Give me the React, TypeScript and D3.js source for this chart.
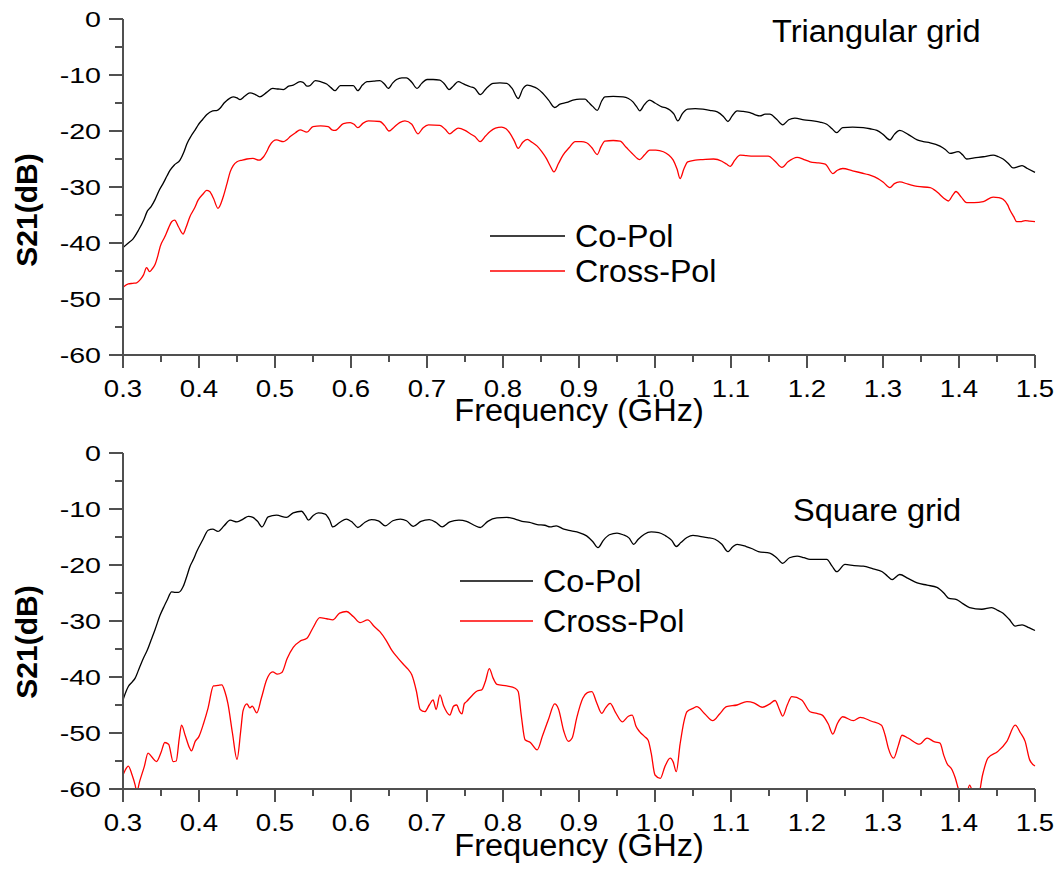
import React from "react";
import * as d3 from "d3";

// ---------- data ----------
const xTicks = [0.3, 0.4, 0.5, 0.6, 0.7, 0.8, 0.9, 1.0, 1.1, 1.2, 1.3, 1.4, 1.5];
const yTicks = [0, -10, -20, -30, -40, -50, -60];
const seriesNames = ["Co-Pol", "Cross-Pol"];
const panelTitles = ["Triangular grid", "Square grid"];

const triCoPol: [number, number][] = [
  [0.300,-40.8],[0.307,-40.0],[0.313,-39.3],[0.320,-37.8],[0.327,-36.0],[0.332,-34.3],[0.337,-33.5],[0.342,-32.3],
  [0.348,-30.5],[0.353,-29.3],[0.358,-28.0],[0.362,-27.0],[0.368,-26.0],[0.375,-25.2],[0.380,-23.8],[0.384,-22.3],
  [0.390,-20.8],[0.395,-19.8],[0.399,-18.9],[0.405,-17.9],[0.410,-17.1],[0.418,-16.4],[0.424,-16.3],[0.428,-15.9],
  [0.433,-15.0],[0.437,-14.5],[0.445,-13.9],[0.450,-14.1],[0.454,-14.4],[0.460,-13.8],[0.467,-13.2],[0.473,-13.4],
  [0.480,-13.9],[0.489,-13.1],[0.497,-12.4],[0.504,-12.5],[0.511,-12.6],[0.518,-12.0],[0.524,-11.8],[0.533,-11.2],
  [0.537,-11.3],[0.542,-12.0],[0.546,-11.9],[0.553,-11.0],[0.560,-11.2],[0.568,-11.6],[0.574,-12.3],[0.579,-12.8],
  [0.586,-11.9],[0.595,-11.9],[0.603,-11.9],[0.609,-12.8],[0.615,-11.8],[0.621,-11.2],[0.630,-11.1],[0.638,-11.0],
  [0.644,-11.6],[0.649,-12.4],[0.655,-11.4],[0.660,-10.8],[0.667,-10.5],[0.673,-10.5],[0.680,-11.3],[0.687,-12.4],
  [0.693,-11.5],[0.700,-10.8],[0.708,-10.8],[0.717,-10.9],[0.723,-11.6],[0.729,-12.6],[0.735,-11.9],[0.741,-11.2],
  [0.748,-11.6],[0.757,-12.1],[0.763,-12.4],[0.770,-13.5],[0.778,-12.4],[0.787,-11.5],[0.796,-11.4],[0.805,-11.5],
  [0.812,-12.4],[0.820,-14.2],[0.826,-12.5],[0.832,-11.8],[0.838,-12.0],[0.845,-12.4],[0.852,-13.2],[0.860,-14.5],
  [0.868,-15.8],[0.875,-15.2],[0.884,-14.9],[0.892,-14.5],[0.901,-14.3],[0.908,-14.3],[0.912,-14.8],[0.918,-15.6],
  [0.924,-16.3],[0.930,-14.6],[0.934,-13.9],[0.945,-13.8],[0.958,-13.9],[0.965,-14.2],[0.971,-14.8],[0.976,-15.7],
  [0.980,-16.4],[0.986,-15.3],[0.993,-14.5],[1.000,-15.0],[1.009,-15.7],[1.015,-15.9],[1.020,-16.3],[1.025,-17.0],
  [1.030,-18.2],[1.036,-16.9],[1.043,-16.1],[1.053,-16.0],[1.063,-16.1],[1.072,-16.3],[1.082,-16.6],[1.090,-17.4],
  [1.096,-18.3],[1.102,-17.2],[1.108,-16.4],[1.116,-16.5],[1.125,-16.7],[1.132,-17.1],[1.138,-17.3],[1.145,-17.0],
  [1.151,-17.0],[1.160,-17.9],[1.168,-18.9],[1.176,-18.0],[1.184,-17.7],[1.196,-18.0],[1.208,-18.2],[1.217,-18.4],
  [1.226,-18.8],[1.233,-19.6],[1.239,-20.3],[1.247,-19.4],[1.260,-19.3],[1.274,-19.4],[1.283,-19.6],[1.292,-19.9],
  [1.300,-20.6],[1.309,-21.6],[1.315,-20.6],[1.322,-19.9],[1.333,-20.6],[1.345,-21.6],[1.353,-21.9],[1.362,-22.1],
  [1.375,-22.7],[1.382,-23.3],[1.388,-24.0],[1.399,-23.7],[1.405,-24.3],[1.410,-25.0],[1.420,-24.8],[1.432,-24.6],
  [1.445,-24.3],[1.452,-24.6],[1.458,-25.0],[1.465,-25.8],[1.471,-26.6],[1.477,-26.4],[1.483,-26.2],[1.490,-26.7],
  [1.500,-27.4],
];

const triCrossPol: [number, number][] = [
  [0.300,-47.9],[0.307,-47.3],[0.313,-47.2],[0.318,-47.1],[0.323,-46.5],[0.327,-45.7],[0.331,-44.4],[0.335,-45.1],
  [0.338,-44.7],[0.342,-43.9],[0.346,-42.2],[0.349,-40.6],[0.355,-38.9],[0.360,-37.3],[0.364,-36.2],[0.368,-35.9],
  [0.373,-37.1],[0.379,-38.4],[0.383,-37.2],[0.388,-35.3],[0.394,-33.8],[0.399,-32.3],[0.405,-31.3],[0.410,-30.6],
  [0.414,-30.8],[0.419,-32.0],[0.425,-33.8],[0.432,-31.7],[0.437,-29.3],[0.441,-27.3],[0.445,-26.2],[0.450,-25.5],
  [0.457,-25.2],[0.463,-25.0],[0.471,-24.9],[0.479,-25.2],[0.485,-24.6],[0.489,-23.7],[0.493,-22.6],[0.502,-21.6],
  [0.511,-21.9],[0.516,-21.5],[0.520,-21.0],[0.527,-20.3],[0.533,-19.8],[0.542,-20.2],[0.550,-19.2],[0.560,-19.1],
  [0.570,-19.2],[0.575,-19.8],[0.579,-19.9],[0.590,-18.7],[0.599,-18.5],[0.604,-18.8],[0.609,-19.4],[0.616,-18.6],
  [0.623,-18.2],[0.638,-18.3],[0.644,-19.0],[0.650,-20.0],[0.656,-19.4],[0.664,-18.5],[0.671,-18.2],[0.680,-18.8],
  [0.688,-20.5],[0.695,-19.4],[0.702,-18.9],[0.717,-19.0],[0.724,-19.7],[0.730,-20.5],[0.735,-20.0],[0.741,-19.5],
  [0.750,-19.9],[0.757,-20.5],[0.763,-21.0],[0.770,-21.9],[0.777,-20.9],[0.783,-20.1],[0.790,-19.5],[0.798,-19.3],
  [0.804,-19.6],[0.809,-20.4],[0.815,-21.8],[0.820,-23.1],[0.826,-22.0],[0.832,-21.5],[0.838,-22.0],[0.845,-22.7],
  [0.851,-23.7],[0.857,-24.9],[0.862,-26.2],[0.867,-27.3],[0.873,-25.8],[0.879,-24.3],[0.887,-23.0],[0.895,-21.9],
  [0.903,-21.9],[0.910,-22.1],[0.917,-23.0],[0.924,-24.2],[0.929,-22.8],[0.934,-21.8],[0.945,-21.7],[0.954,-21.8],
  [0.962,-22.9],[0.970,-24.0],[0.980,-25.1],[0.986,-24.3],[0.993,-23.4],[1.001,-23.4],[1.011,-23.7],[1.018,-24.3],
  [1.024,-25.2],[1.029,-26.8],[1.033,-28.5],[1.038,-26.8],[1.043,-25.5],[1.053,-25.2],[1.063,-25.1],[1.077,-25.0],
  [1.088,-25.4],[1.094,-25.9],[1.099,-26.3],[1.105,-25.2],[1.112,-24.3],[1.120,-24.4],[1.129,-24.5],[1.140,-24.5],
  [1.149,-24.5],[1.158,-25.4],[1.167,-26.5],[1.175,-25.5],[1.187,-24.7],[1.196,-25.1],[1.204,-25.5],[1.215,-25.7],
  [1.224,-25.9],[1.234,-27.6],[1.240,-27.0],[1.247,-26.7],[1.260,-27.1],[1.272,-27.5],[1.281,-27.8],[1.289,-28.2],
  [1.300,-29.1],[1.309,-30.1],[1.315,-29.4],[1.322,-29.1],[1.333,-29.5],[1.345,-29.9],[1.362,-30.1],[1.372,-31.0],
  [1.380,-32.0],[1.386,-32.5],[1.392,-31.4],[1.396,-30.8],[1.403,-31.8],[1.410,-32.8],[1.420,-32.8],[1.432,-32.6],
  [1.445,-31.8],[1.452,-31.9],[1.458,-32.2],[1.464,-33.2],[1.467,-34.1],[1.472,-35.3],[1.476,-36.2],[1.481,-36.2],
  [1.487,-36.0],[1.493,-36.1],[1.500,-36.2],
];

const sqCoPol: [number, number][] = [
  [0.300,-44.1],[0.304,-42.6],[0.307,-41.7],[0.312,-40.9],[0.316,-40.2],[0.322,-38.2],[0.327,-36.6],[0.332,-35.2],
  [0.337,-33.4],[0.342,-31.6],[0.349,-28.9],[0.354,-27.4],[0.358,-26.3],[0.364,-24.8],[0.369,-24.9],[0.373,-24.9],
  [0.379,-23.9],[0.384,-22.0],[0.388,-20.3],[0.393,-18.9],[0.397,-17.6],[0.405,-15.5],[0.412,-13.8],[0.418,-13.6],
  [0.425,-14.0],[0.433,-13.0],[0.441,-12.0],[0.450,-12.3],[0.458,-11.8],[0.465,-11.3],[0.471,-11.5],[0.477,-12.2],
  [0.483,-13.2],[0.491,-11.4],[0.502,-11.1],[0.515,-11.5],[0.524,-10.7],[0.535,-10.4],[0.540,-11.2],[0.544,-12.0],
  [0.550,-11.2],[0.557,-10.7],[0.566,-10.9],[0.572,-12.0],[0.576,-13.2],[0.585,-12.4],[0.594,-11.8],[0.602,-12.4],
  [0.609,-13.3],[0.618,-12.4],[0.627,-11.9],[0.636,-12.1],[0.645,-13.0],[0.655,-12.1],[0.665,-11.8],[0.673,-12.1],
  [0.682,-13.1],[0.692,-12.2],[0.703,-11.9],[0.712,-12.4],[0.720,-13.2],[0.730,-12.3],[0.742,-12.0],[0.752,-12.2],
  [0.762,-12.9],[0.770,-13.3],[0.780,-12.2],[0.792,-11.6],[0.805,-11.5],[0.816,-11.8],[0.825,-12.2],[0.835,-12.4],
  [0.845,-12.8],[0.855,-12.9],[0.862,-13.2],[0.870,-13.0],[0.880,-13.6],[0.890,-13.9],[0.900,-14.2],[0.910,-14.8],
  [0.918,-15.8],[0.925,-16.9],[0.932,-15.6],[0.940,-14.6],[0.950,-14.3],[0.958,-14.6],[0.966,-15.2],[0.972,-16.3],
  [0.978,-15.4],[0.986,-14.5],[0.995,-14.1],[1.005,-14.2],[1.014,-14.8],[1.022,-15.6],[1.028,-16.7],[1.034,-16.0],
  [1.042,-15.1],[1.050,-14.7],[1.059,-14.9],[1.069,-15.1],[1.079,-15.4],[1.088,-16.3],[1.096,-17.6],[1.102,-16.8],
  [1.108,-16.3],[1.120,-16.7],[1.128,-17.1],[1.136,-17.6],[1.151,-17.9],[1.160,-18.7],[1.168,-19.7],[1.177,-18.7],
  [1.187,-18.4],[1.196,-18.7],[1.204,-19.0],[1.226,-19.0],[1.233,-20.2],[1.239,-21.2],[1.250,-19.9],[1.262,-20.1],
  [1.274,-20.2],[1.287,-20.7],[1.299,-21.2],[1.306,-22.0],[1.312,-22.6],[1.322,-21.7],[1.333,-22.4],[1.345,-23.2],
  [1.358,-23.6],[1.371,-24.0],[1.380,-25.0],[1.386,-25.9],[1.397,-26.2],[1.405,-26.9],[1.414,-27.6],[1.430,-27.9],
  [1.443,-27.6],[1.451,-28.1],[1.458,-28.6],[1.466,-29.7],[1.474,-30.9],[1.483,-30.7],[1.492,-31.2],[1.500,-31.7],
];

const sqCrossPol: [number, number][] = [
  [0.300,-57.5],[0.303,-56.6],[0.307,-55.9],[0.312,-57.5],[0.316,-59.3],[0.318,-60.5],[0.322,-58.6],[0.328,-56.0],
  [0.333,-53.6],[0.338,-54.3],[0.344,-55.1],[0.350,-53.5],[0.355,-51.7],[0.360,-52.0],[0.366,-55.1],[0.370,-55.0],
  [0.374,-51.0],[0.377,-48.6],[0.382,-50.5],[0.387,-52.5],[0.390,-53.2],[0.395,-51.5],[0.400,-50.6],[0.406,-48.3],
  [0.412,-45.5],[0.419,-41.6],[0.425,-41.5],[0.430,-41.4],[0.434,-42.6],[0.438,-44.7],[0.444,-50.0],[0.450,-54.7],
  [0.455,-49.5],[0.458,-46.0],[0.463,-44.8],[0.467,-45.5],[0.470,-45.2],[0.476,-46.4],[0.482,-43.8],[0.489,-40.5],
  [0.497,-39.1],[0.503,-39.5],[0.509,-39.2],[0.516,-36.7],[0.524,-34.7],[0.533,-33.6],[0.542,-33.1],[0.550,-31.2],
  [0.559,-29.4],[0.568,-29.6],[0.576,-29.8],[0.585,-28.6],[0.594,-28.3],[0.603,-29.2],[0.612,-30.3],[0.622,-29.8],
  [0.630,-30.9],[0.638,-31.9],[0.646,-33.4],[0.654,-35.3],[0.661,-36.5],[0.668,-37.6],[0.675,-38.6],[0.680,-39.6],
  [0.686,-42.5],[0.691,-45.8],[0.697,-46.2],[0.703,-45.0],[0.708,-44.1],[0.712,-45.8],[0.717,-43.2],[0.722,-45.2],
  [0.730,-46.8],[0.735,-45.2],[0.739,-45.0],[0.743,-46.2],[0.746,-46.6],[0.749,-44.8],[0.752,-44.4],[0.760,-43.2],
  [0.766,-42.5],[0.772,-42.3],[0.777,-40.7],[0.782,-38.5],[0.787,-40.2],[0.792,-41.3],[0.805,-41.6],[0.816,-42.0],
  [0.820,-42.6],[0.824,-46.8],[0.829,-51.2],[0.836,-51.7],[0.845,-53.0],[0.852,-50.5],[0.860,-47.5],[0.868,-44.8],
  [0.873,-45.7],[0.880,-49.7],[0.886,-51.5],[0.891,-50.9],[0.897,-47.3],[0.905,-43.8],[0.911,-42.8],[0.917,-42.6],
  [0.923,-44.5],[0.930,-46.5],[0.935,-45.5],[0.941,-44.7],[0.948,-46.3],[0.957,-48.0],[0.965,-47.0],[0.970,-46.8],
  [0.975,-48.8],[0.980,-49.8],[0.986,-50.6],[0.991,-51.3],[0.995,-53.6],[1.000,-57.5],[1.007,-58.1],[1.013,-56.0],
  [1.020,-54.5],[1.024,-55.2],[1.028,-56.9],[1.033,-52.0],[1.038,-48.0],[1.042,-46.2],[1.050,-45.6],[1.055,-45.3],
  [1.065,-46.5],[1.076,-47.8],[1.085,-46.6],[1.094,-45.3],[1.108,-45.0],[1.121,-44.4],[1.130,-44.6],[1.141,-45.4],
  [1.150,-44.9],[1.158,-44.2],[1.164,-45.9],[1.168,-47.0],[1.174,-45.0],[1.180,-43.5],[1.193,-44.1],[1.204,-46.2],
  [1.213,-46.5],[1.220,-46.8],[1.228,-48.4],[1.234,-50.2],[1.240,-48.3],[1.247,-47.1],[1.261,-47.8],[1.270,-47.2],
  [1.285,-47.9],[1.298,-48.6],[1.303,-50.5],[1.307,-52.7],[1.314,-54.5],[1.320,-52.3],[1.325,-50.4],[1.333,-50.9],
  [1.348,-52.0],[1.358,-50.9],[1.368,-51.6],[1.375,-51.8],[1.380,-54.0],[1.384,-55.4],[1.391,-56.6],[1.395,-58.0],
  [1.399,-59.9],[1.404,-62.0],[1.410,-61.0],[1.414,-59.3],[1.419,-61.0],[1.425,-61.5],[1.431,-57.5],[1.438,-54.5],
  [1.451,-53.3],[1.463,-51.5],[1.474,-48.6],[1.481,-50.0],[1.487,-51.5],[1.493,-54.8],[1.500,-55.9],
];

// ---------- layout ----------
const W = 1056;
const H = 894;
const X0 = 123;
const X1 = 1035;
const PH = 336;
const FONT = "'Liberation Sans', Arial, Helvetica, sans-serif";
const AXIS = "#505050";
const COLORS = ["#000000", "#ff0000"];

const panels = [
  { top: 19, title: panelTitles[0], titleX: 772, titleY: 42, data: [triCoPol, triCrossPol], legX: 490, legY: [236, 271], legLen: 75, yLabelY: 210, xLabelY: 421 },
  { top: 453, title: panelTitles[1], titleX: 793, titleY: 521, data: [sqCoPol, sqCrossPol], legX: 460, legY: [581, 621], legLen: 73, yLabelY: 642, xLabelY: 856 },
];

const xScale = d3.scaleLinear().domain([0.3, 1.5]).range([X0, X1]);

function SText({ x, y, sx = 1, size, anchor = "start", weight = "normal", children, rotate = 0 }: any) {
  return (
    <text
      transform={`translate(${x},${y}) rotate(${rotate}) scale(${sx},1)`}
      fontFamily={FONT}
      fontSize={size}
      fontWeight={weight}
      textAnchor={anchor}
      fill="#000"
    >
      {children}
    </text>
  );
}

function Panel({ p, idx }: any) {
  const yScale = d3.scaleLinear().domain([-60, 0]).range([p.top + PH, p.top]);
  const line = d3
    .line<[number, number]>()
    .x((d) => xScale(d[0]))
    .y((d) => yScale(d[1]))
    .curve(d3.curveMonotoneX);
  const yBase = p.top + PH;
  const minorY = d3.range(-55, 0, 10);
  const minorX = d3.range(0.35, 1.5, 0.1);
  const clipId = `clip${idx}`;
  return (
    <g>
      <defs>
        <clipPath id={clipId}>
          <rect x={X0} y={p.top - 5} width={X1 - X0 + 2} height={PH + 5} />
        </clipPath>
      </defs>
      {/* data */}
      <g clipPath={`url(#${clipId})`}>
        {p.data.map((s: [number, number][], i: number) => (
          <path key={i} d={line(s) || ""} fill="none" stroke={COLORS[i]} strokeWidth={1.3} strokeLinejoin="round" />
        ))}
      </g>
      {/* axes */}
      <line x1={X0} x2={X0} y1={p.top} y2={yBase} stroke={AXIS} strokeWidth={2} />
      <line x1={X0} x2={X1} y1={yBase} y2={yBase} stroke={AXIS} strokeWidth={2} />
      {yTicks.map((t) => (
        <g key={"yt" + t}>
          <line x1={X0 - 14} x2={X0} y1={yScale(t)} y2={yScale(t)} stroke={AXIS} strokeWidth={2} />
          <SText x={101} y={yScale(t) + 8} sx={1.3} size={22} anchor="end">{String(t)}</SText>
        </g>
      ))}
      {minorY.map((t) => (
        <line key={"ym" + t} x1={X0 - 8} x2={X0} y1={yScale(t)} y2={yScale(t)} stroke={AXIS} strokeWidth={2} />
      ))}
      {xTicks.map((t) => (
        <g key={"xt" + t}>
          <line x1={xScale(t)} x2={xScale(t)} y1={yBase} y2={yBase + 13} stroke={AXIS} strokeWidth={2} />
          <SText x={xScale(t)} y={yBase + 42} sx={1.2} size={23} anchor="middle">{t.toFixed(1)}</SText>
        </g>
      ))}
      {minorX.map((t) => (
        <line key={"xm" + t} x1={xScale(t)} x2={xScale(t)} y1={yBase} y2={yBase + 7} stroke={AXIS} strokeWidth={2} />
      ))}
      {/* axis titles */}
      <SText x={579} y={p.xLabelY} sx={1.05} size={31} anchor="middle">Frequency (GHz)</SText>
      <SText x={37} y={p.yLabelY} size={30} anchor="middle" weight="bold" rotate={-90}>S21(dB)</SText>
      {/* panel title */}
      <SText x={p.titleX} y={p.titleY} sx={1.05} size={31}>{p.title}</SText>
      {/* legend */}
      {seriesNames.map((n, i) => (
        <g key={n}>
          <line x1={p.legX} x2={p.legX + p.legLen} y1={p.legY[i]} y2={p.legY[i]} stroke={COLORS[i]} strokeWidth={1.3} />
          <SText x={p.legX + p.legLen + 10} y={p.legY[i] + 11} sx={1.04} size={31}>{n}</SText>
        </g>
      ))}
    </g>
  );
}

export default function App() {
  return (
    <svg
      width={W}
      height={H}
      viewBox={`0 0 ${W} ${H}`}
      style={{ position: "absolute", left: 0, top: 0, background: "#fff" }}
    >
      <rect x={0} y={0} width={W} height={H} fill="#fff" />
      {panels.map((p, i) => (
        <Panel key={i} p={p} idx={i} />
      ))}
    </svg>
  );
}
